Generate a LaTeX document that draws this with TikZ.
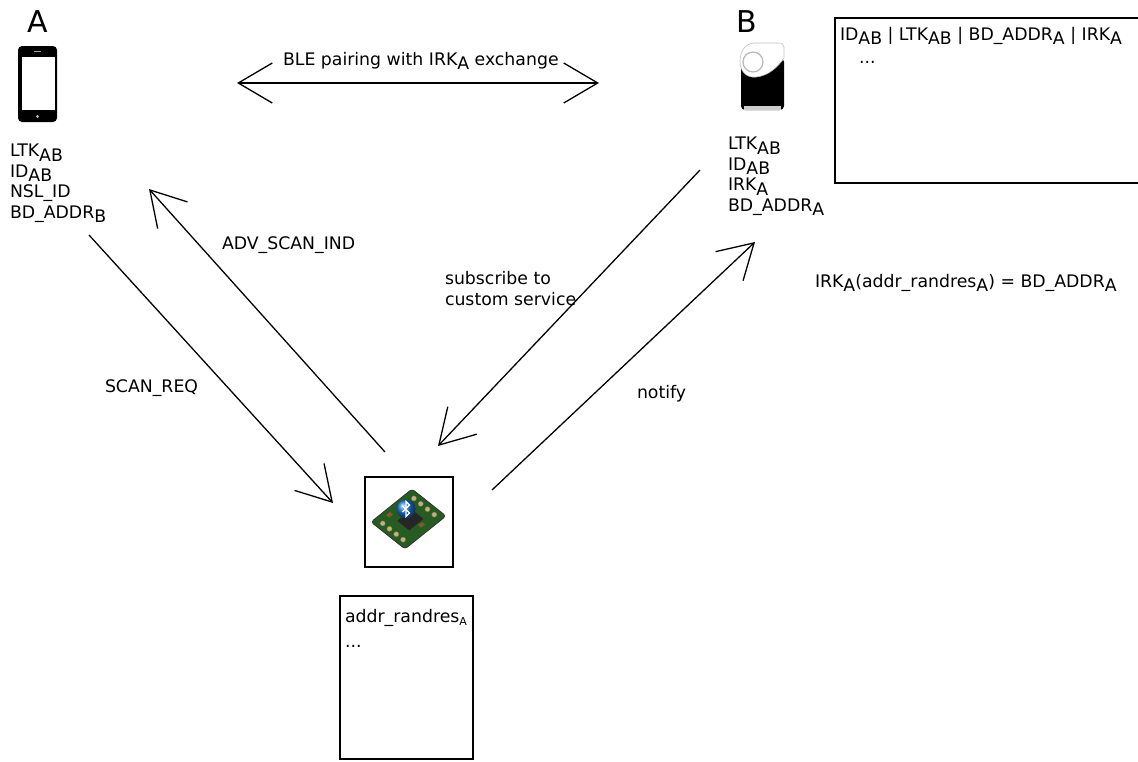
\documentclass[tikz,border=0pt]{standalone}
\usepackage{fontspec}
\setmainfont{DejaVu Sans}
\usetikzlibrary{arrows.meta}
% lowered index, same size as the text
\newcommand\lo[1]{\raisebox{-0.26em}{#1}}
% small lowered index
\newcommand\slo[1]{\raisebox{-0.2em}{\fontsize{11}{11}\selectfont #1}}
\definecolor{boardgreen}{RGB}{38,92,34}
\definecolor{padgold}{RGB}{196,178,120}
\definecolor{btblue}{RGB}{30,120,210}
\tikzset{
  txt/.style={anchor=base west, inner sep=0pt, outer sep=0pt, font=\fontsize{17.3}{20.5}\selectfont, align=left},
  big/.style={anchor=base west, inner sep=0pt, font=\fontsize{30}{30}\selectfont},
  msg/.style={line width=1.3pt, -{Straight Barb[length=34pt,width=40pt,line width=1.3pt]}},
  both/.style={line width=1.3pt, {Straight Barb[length=34pt,width=40pt,line width=1.3pt]}-{Straight Barb[length=34pt,width=40pt,line width=1.3pt]}},
  tablebox/.style={line width=2pt},
  pad/.style={fill=padgold, draw=padgold!60!black, line width=0.3pt}
}
\begin{document}
\begin{tikzpicture}[x=1pt, y=-1pt]
\useasboundingbox (0,0) rectangle (1138,761);

% ---------- device A: phone ----------
\node[big] (labA) at (27,32) {A};
\fill[black, rounded corners=4pt] (18,46) rectangle (57,122);
\fill[white] (22,57) rectangle (55,110);
\fill[gray!70] (34,50.5) rectangle (41,52);
\fill[gray!60] (37.5,116.5) circle (1.6);
\node[inner sep=0pt] (phone) at (37.5,84) {};
% multi-line text is placed by the baseline of its last line
\node[txt] (listA) at (10,218) {LTK\lo{AB}\\ID\lo{AB}\\NSL\_ID\\BD\_ADDR\lo{B}};

% ---------- device B: lock ----------
\node[big] (labB) at (736,32) {B};
\fill[black, rounded corners=4pt] (741,58) rectangle (784,110);
\fill[gray!40] (744,106) rectangle (781,110);
\draw[fill=white, draw=gray!50, line width=0.6pt] (784,58) -- (784,47)
  .. controls (784,44) and (782,43) .. (778,43) -- (755,43)
  .. controls (745,43) and (740,52) .. (740,61)
  .. controls (740,71) and (746,78) .. (756,77)
  .. controls (768,76) and (778,67) .. (784,58) -- cycle;
\draw[gray!55, line width=1.2pt, fill=white] (753,62) circle (10);
\node[inner sep=0pt] (lock) at (762,76) {};
\node[txt] (listB) at (728,211) {LTK\lo{AB}\\ID\lo{AB}\\IRK\lo{A}\\BD\_ADDR\lo{A}};

% ---------- table on B ----------
\draw[tablebox] (1140,18) -- (835,18) -- (835,183) -- (1140,183);
\node[txt] (tabhead) at (840,40) {ID\lo{AB} | LTK\lo{AB} | BD\_ADDR\lo{A} | IRK\lo{A}};
\node[txt] (tabdots) at (859,63) {...};

\node[txt] (resolve) at (815,287) {IRK\lo{A}(addr\_randres\lo{A}) = BD\_ADDR\lo{A}};

% ---------- attacker module ----------
\draw[line width=1.3pt] (365,477) rectangle (453,567);
\node[inner sep=0pt] (module) at (409,522) {};
\draw[fill=boardgreen, draw=black!80, line width=0.8pt, rounded corners=3pt]
  (371,522) -- (412,489) -- (446,516) -- (405,549) -- cycle;
\fill[black!85] (397.3,520.9) -- (411.6,509.4) -- (423.5,518.9) -- (409.2,530.3) -- cycle;
\foreach \p in {(382.7,523.4),(389.5,528.8),(396.3,534.2),(403.1,539.6),
                (413.9,498.4),(420.7,503.8),(427.5,509.2),(434.3,514.6)}
  {\draw[pad] \p circle (2.6); \fill[gray!60] \p circle (1);}
\fill[brown!70!black] (386,515) -- (390,512) -- (393,514.5) -- (389,517.5) -- cycle;
\fill[brown!70!black] (418,525) -- (422,522) -- (425,524.5) -- (421,527.5) -- cycle;
\shade[ball color=btblue] (406,509) circle (9.5);
\draw[white, line width=1.1pt, line join=miter]
  (402.5,506) -- (409.5,513) -- (406,516.5) -- (406,501.5) -- (409.5,505) -- (402.5,512);

% ---------- captured data ----------
\draw[tablebox] (340,596) rectangle (473,759);
\node[txt] (capt) at (345,622) {addr\_randres\slo{A}};
\node[txt] (captdots) at (345,647) {...};

% ---------- connector end points ----------
\coordinate (pairL) at (237,83);
\coordinate (pairR) at (599,83);
\coordinate (scanS) at (89,235);
\coordinate (scanT) at (333,503);
\coordinate (advS) at (385,452);
\coordinate (advT) at (149,189);
\coordinate (subS) at (700,170);
\coordinate (subT) at (438,446);
\coordinate (notS) at (492,490);
\coordinate (notT) at (755,242);

% ---------- messages ----------
\draw[both] (pairL) -- (pairR);
\node[txt] (pairlab) at (283,65) {BLE pairing with IRK\lo{A} exchange};

\draw[msg] (scanS) -- (scanT);
\node[txt] (scanlab) at (105,392) {SCAN\_REQ};

\draw[msg] (advS) -- (advT);
\node[txt] (advlab) at (222,249) {ADV\_SCAN\_IND};

\draw[msg] (subS) -- (subT);
\node[txt] (sublab) at (445,305) {subscribe to\\custom service};

\draw[msg] (notS) -- (notT);
\node[txt] (notlab) at (637,398) {notify};
\end{tikzpicture}
\end{document}
